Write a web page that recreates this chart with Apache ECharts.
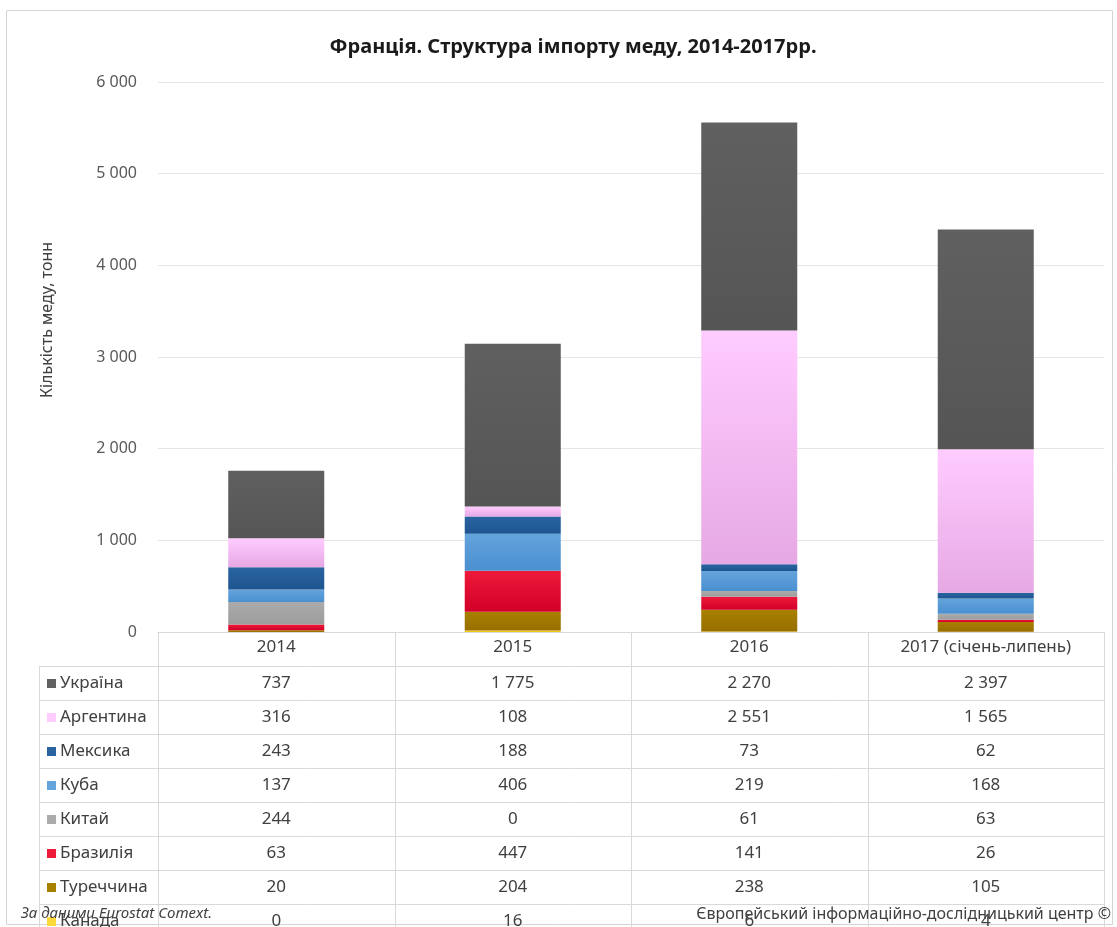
<!DOCTYPE html>
<html><head><meta charset="utf-8">
<script src="https://cdn.jsdelivr.net/npm/echarts@6/dist/echarts.min.js"></script>
<style>html,body{margin:0;padding:0;background:#fff}#c{width:1117px;height:927px}</style>
</head><body><div id="c"></div>
<script>
const categories = ['2014', '2015', '2016', '2017 (січень-липень)'];
const yTickMax = 6000;
const yTickStep = 1000;

const ukraine   = [737, 1775, 2270, 2397];
const argentina = [316, 108, 2551, 1565];
const mexico    = [243, 188, 73, 62];
const cuba      = [137, 406, 219, 168];
const china     = [244, 0, 61, 63];
const brazil    = [63, 447, 141, 26];
const turkey    = [20, 204, 238, 105];
const canada    = [0, 16, 6, 4];

const seriesNames  = ['Україна', 'Аргентина', 'Мексика', 'Куба', 'Китай', 'Бразилія', 'Туреччина', 'Канада'];
const seriesValues = [ukraine, argentina, mexico, cuba, china, brazil, turkey, canada];
const seriesColors = [
  ['#606060', '#555555'],
  ['#ffccff', '#e6a8e4'],
  ['#2a64a0', '#1d5590'],
  ['#64a4dc', '#4a8fd0'],
  ['#ababab', '#9c9c9c'],
  ['#ee1a3a', '#d20028'],
  ['#a88000', '#986e00'],
  ['#ffd83a', '#f0c000']
];

const FONT = 'Noto Sans';
const TXT = '#404040';
const LINE = '#d9d9d9';

function fmt(v) {
  return String(v).replace(/\B(?=(\d{3})+(?!\d))/g, ' ');
}

const chart = echarts.init(document.getElementById('c'), null, { renderer: 'canvas' });

const series = [];
for (let k = seriesNames.length - 1; k >= 0; k--) {
  series.push({
    name: seriesNames[k],
    type: 'bar',
    stack: 'total',
    barWidth: '40.6%',
    data: seriesValues[k],
    itemStyle: {
      color: new echarts.graphic.LinearGradient(0, 0, 0, 1, [
        { offset: 0, color: seriesColors[k][0] },
        { offset: 1, color: seriesColors[k][1] }
      ])
    },
    emphasis: { disabled: true }
  });
}

chart.setOption({
  animation: false,
  backgroundColor: '#ffffff',
  title: {
    text: 'Франція. Структура імпорту меду, 2014-2017рр.',
    left: 568,
    top: 32,
    textAlign: 'center',
    textStyle: { fontFamily: FONT, fontSize: 20, fontWeight: 'bold', color: '#1a1a1a' }
  },
  grid: { left: 158, right: 13, top: 82, bottom: 295, containLabel: false },
  xAxis: {
    type: 'category',
    data: categories,
    axisTick: { show: false },
    axisLine: { lineStyle: { color: LINE } },
    axisLabel: { margin: 7, fontFamily: FONT, fontSize: 17, color: TXT, interval: 0 }
  },
  yAxis: {
    type: 'value',
    min: 0,
    max: yTickMax,
    interval: yTickStep,
    axisLine: { show: false },
    axisTick: { show: false },
    splitLine: { lineStyle: { color: '#e6e6e6' } },
    axisLabel: { margin: 21, fontFamily: FONT, fontSize: 16, color: '#595959', formatter: fmt }
  },
  series: series
});

// Build the data table beneath the axis from the axis geometry
const p0 = chart.convertToPixel({ gridIndex: 0 }, [0, 0]);
const p1 = chart.convertToPixel({ gridIndex: 0 }, [1, 0]);
const band = p1[0] - p0[0];
const axisY = p0[1];
const rowH = 34;
const tableLeft = 39;
const firstRowTop = axisY + rowH;
const colLeft = p0[0] - band / 2;
const colRight = colLeft + band * categories.length;
const tableBottom = 940;
const CELL_FONT = '17px "' + FONT + '"';

const g = [];
g.push({ type: 'rect', shape: { x: 6.5, y: 10.5, width: 1106, height: 914 }, style: { fill: 'none', stroke: '#d4d4d4', lineWidth: 1 }, silent: true });
for (let r = 0; r < seriesNames.length; r++) {
  const y = Math.round(firstRowTop + r * rowH) + 0.5;
  g.push({ type: 'line', shape: { x1: tableLeft, y1: y, x2: colRight, y2: y }, style: { stroke: LINE, lineWidth: 1 }, silent: true });
}
g.push({ type: 'line', shape: { x1: tableLeft + 0.5, y1: firstRowTop, x2: tableLeft + 0.5, y2: tableBottom }, style: { stroke: LINE, lineWidth: 1 }, silent: true });
for (let c = 0; c <= categories.length; c++) {
  const x = Math.round(colLeft + c * band) + 0.5;
  g.push({ type: 'line', shape: { x1: x, y1: axisY, x2: x, y2: tableBottom }, style: { stroke: LINE, lineWidth: 1 }, silent: true });
}
for (let r = 0; r < seriesNames.length; r++) {
  const cy = firstRowTop + r * rowH + rowH / 2;
  g.push({ type: 'rect', shape: { x: 47, y: Math.round(cy - 4), width: 9, height: 9 }, style: { fill: seriesColors[r][0] }, silent: true });
  g.push({ type: 'text', style: { text: seriesNames[r], x: 60, y: cy, align: 'left', verticalAlign: 'middle', font: CELL_FONT, fill: TXT }, silent: true });
  for (let c = 0; c < categories.length; c++) {
    const cx = chart.convertToPixel({ xAxisIndex: 0 }, c);
    g.push({ type: 'text', style: { text: fmt(seriesValues[r][c]), x: cx, y: cy, align: 'center', verticalAlign: 'middle', font: CELL_FONT, fill: TXT }, silent: true });
  }
}
g.push({ type: 'text', rotation: Math.PI / 2, x: 47, y: 320, style: { text: 'Кількість меду, тонн', x: 0, y: 0, align: 'center', verticalAlign: 'middle', font: '16px "' + FONT + '"', fill: TXT }, silent: true });
g.push({ type: 'text', style: { text: 'За даними Eurostat Comext.', x: 21, y: 914, align: 'left', verticalAlign: 'middle', font: 'italic 15px "' + FONT + '"', fill: TXT }, silent: true });
g.push({ type: 'text', style: { text: 'Європейський інформаційно-дослідницький центр ©', x: 1111, y: 914, align: 'right', verticalAlign: 'middle', font: '16px "' + FONT + '"', fill: TXT }, silent: true });

chart.setOption({ graphic: g });
</script>
</body></html>
